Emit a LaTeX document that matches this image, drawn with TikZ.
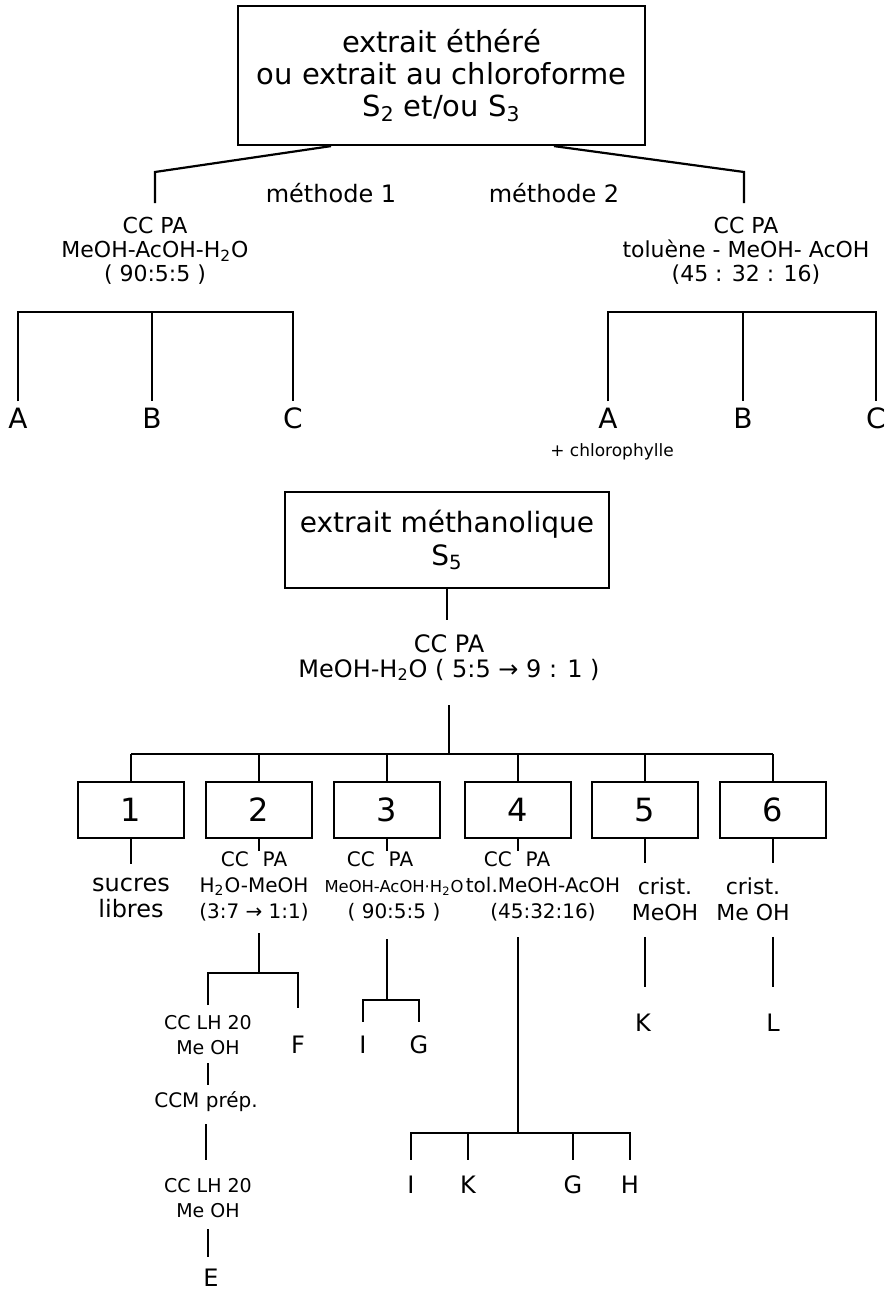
\documentclass[tikz,border=0pt]{standalone}
\usepackage{fontspec}
\setmainfont{DejaVu Sans}
\usepackage{tikz}
\newcommand{\ix}[1]{\textsubscript{#1}}

\begin{document}
\begin{tikzpicture}[x=0.5pt,y=-0.5pt,
  ln/.style={line width=1.1pt},
  bigbox/.style={draw,line width=1.1pt,inner sep=0pt,align=center,font=\fontsize{14.5}{16}\selectfont},
  numbox/.style={draw,line width=1.1pt,minimum width=53pt,minimum height=28pt,inner sep=0pt,font=\fontsize{16}{18}\selectfont},
  mlbl/.style={inner sep=0pt,font=\fontsize{12}{14}\selectfont},
  cclbl/.style={inner sep=0pt,align=center,font=\fontsize{11}{12}\selectfont},
  sublbl/.style={inner sep=0pt,align=center,font=\fontsize{10}{13}\selectfont},
  lhlbl/.style={inner sep=0pt,align=center,font=\fontsize{9.5}{12.5}\selectfont},
  abc/.style={inner sep=3pt,font=\fontsize{14}{16}\selectfont},
  frac/.style={inner sep=2pt,font=\fontsize{12}{14}\selectfont}]
\path[use as bounding box] (0,0) rectangle (886,1290);
\fill[white] (0,0) rectangle (886,1290);

% extrait ethere / chloroforme
\node[bigbox,minimum width=203.5pt,minimum height=69.5pt] (ether) at (441.5,75.5)
  {extrait éthéré\\ou extrait au chloroforme\\S\ix{2} et/ou S\ix{3}};
\node[mlbl] (m1) at (331,193) {méthode 1};
\node[mlbl] (m2) at (554,193) {méthode 2};
\node[cclbl,anchor=north] (cc1) at (155,217) {CC PA\\MeOH-AcOH-H\ix{2}O\\( 90:5:5 )};
\node[cclbl,anchor=north] (cc2) at (746,217) {CC PA\\toluène - MeOH- AcOH\\(45 : 32 : 16)};
\coordinate (k1) at (155,172);
\coordinate (k2) at (744,172);
\draw[ln,shorten >=7pt] (ether.south -| m1) -- (k1) -- (k1 |- cc1.north);
\draw[ln,shorten >=7pt] (ether.south -| m2) -- (k2) -- (k2 |- cc2.north);

\node[abc] (a1) at (18,418) {A};
\node[abc] (b1) at (152,418) {B};
\node[abc] (c1) at (293,418) {C};
\node[abc] (a2) at (608,418) {A};
\node[abc] (b2) at (743,418) {B};
\node[abc] (c2) at (876,418) {C};
\node[inner sep=0pt,font=\fontsize{8.5}{10}\selectfont] (chl) at (612,452) {+ chlorophylle};
\coordinate (bar1) at (0,312);
\draw[ln] (a1.north) -- (a1.north |- bar1) -- (c1.north |- bar1) -- (c1.north);
\draw[ln] (b1.north |- bar1) -- (b1.north);
\draw[ln] (a2.north) -- (a2.north |- bar1) -- (c2.north |- bar1) -- (c2.north);
\draw[ln] (b2.north |- bar1) -- (b2.north);

% extrait methanolique
\node[bigbox,minimum width=162pt,minimum height=48pt,font=\fontsize{14}{16.5}\selectfont] (meth) at (447,540)
  {extrait méthanolique\\S\ix{5}};
\node[cclbl,anchor=north,font=\fontsize{12}{12.5}\selectfont] (cc3) at (449,634)
  {CC PA\\MeOH-H\ix{2}O ( 5:5 → 9 : 1 )};
\draw[ln,shorten >=7pt] (meth.south) -- (meth.south |- cc3.north);
\coordinate (bar2) at (449,754);
\draw[ln,shorten <=12pt] (cc3.south) -- (bar2);
\foreach \i/\x in {1/131,2/259,3/387,4/518,5/645,6/773} {
  \node[numbox] (f\i) at (\x,810) {\i};
  \draw[ln] (f\i.north) -- (f\i.north |- bar2);
}
\draw[ln] (f1.north |- bar2) -- (f6.north |- bar2);

% fractions
\node[sublbl,anchor=north,font=\fontsize{12}{13}\selectfont] (s1) at (131,878) {sucres\\libres};
\node[sublbl,anchor=north] (t2) at (254,851) {CC\hspace{7pt}PA\\H\ix{2}O-MeOH\\(3:7 → 1:1)};
\node[sublbl,anchor=north] (t3) at (394,851)
  {\hspace*{-14pt}CC\hspace{7pt}PA\\{\fontsize{8.2}{13}\selectfont MeOH-AcOH·H\ix{2}O}\\( 90:5:5 )};
\node[sublbl,anchor=north] (t4) at (543,851) {\hspace*{-26pt}CC\hspace{7pt}PA\\tol.MeOH-AcOH\\(45:32:16)};
\node[sublbl,anchor=north,font=\fontsize{11}{13}\selectfont] (c5) at (665,877) {crist.\\MeOH};
\node[sublbl,anchor=north,font=\fontsize{11}{13}\selectfont] (c6) at (753,877) {crist.\\Me OH};
\draw[ln,shorten >=7pt] (f1.south) -- (s1.north);
\draw[ln] (f2.south) -- (f2.south |- t2.north);
\draw[ln] (f3.south) -- (f3.south |- t3.north);
\draw[ln] (f4.south) -- (f4.south |- t4.north);
\draw[ln,shorten >=7pt] (f5.south) -- (f5.south |- c5.north);
\draw[ln,shorten >=7pt] (f6.south) -- (f6.south |- c6.north);

% fraction 2
\coordinate (bar3) at (0,973);
\node[lhlbl,anchor=north] (lh1) at (208,1015) {CC LH 20\\Me OH};
\node[frac] (fF) at (298,1045) {F};
\node[sublbl] (prep) at (206,1102) {CCM prép.};
\node[lhlbl,anchor=north] (lh2) at (208,1178) {CC LH 20\\Me OH};
\node[frac] (fE) at (211,1278) {E};
\draw[ln,shorten <=6pt] (t2.south -| f2.south) -- (f2.south |- bar3);
\draw[ln,shorten <=5pt,shorten >=12pt] (lh1.north) -- (lh1.north |- bar3) -- (fF.north |- bar3) -- (fF.north);
\draw[ln,shorten <=4pt,shorten >=3.5pt] (lh1.south) -- (lh1.south |- prep.north);
\draw[ln,shorten <=6pt,shorten >=9pt] (prep.south) -- (prep.south |- lh2.north);
\draw[ln,shorten <=5.5pt,shorten >=4pt] (lh2.south) -- (lh2.south |- fE.north);

% fraction 3
\coordinate (bar4) at (0,1000);
\node[frac] (fI3) at (363,1045) {I};
\node[frac] (fG3) at (419,1045) {G};
\draw[ln,shorten <=9pt] (t3.south -| f3.south) -- (f3.south |- bar4);
\draw[ln,shorten <=5pt,shorten >=5pt] (fI3.north) -- (fI3.north |- bar4) -- (fG3.north |- bar4) -- (fG3.north);

% fraction 4
\coordinate (bar5) at (0,1133);
\node[frac] (fI4) at (411,1185) {I};
\node[frac] (fK4) at (468,1185) {K};
\node[frac] (fG4) at (573,1185) {G};
\node[frac] (fH4) at (630,1185) {H};
\draw[ln,shorten <=8pt] (t4.south -| f4.south) -- (f4.south |- bar5);
\draw[ln,shorten <=6pt,shorten >=6pt] (fI4.north) -- (fI4.north |- bar5) -- (fH4.north |- bar5) -- (fH4.north);
\draw[ln,shorten >=6pt] (fK4.north |- bar5) -- (fK4.north);
\draw[ln,shorten >=6pt] (fG4.north |- bar5) -- (fG4.north);

% fractions 5 et 6
\node[frac] (fK5) at (643,1023) {K};
\node[frac] (fL6) at (773,1023) {L};
\draw[ln,shorten <=8pt,shorten >=11.5pt] (c5.south -| f5.south) -- (f5.south |- fK5.north);
\draw[ln,shorten <=8pt,shorten >=11.5pt] (c6.south -| f6.south) -- (f6.south |- fL6.north);
\end{tikzpicture}
\end{document}
